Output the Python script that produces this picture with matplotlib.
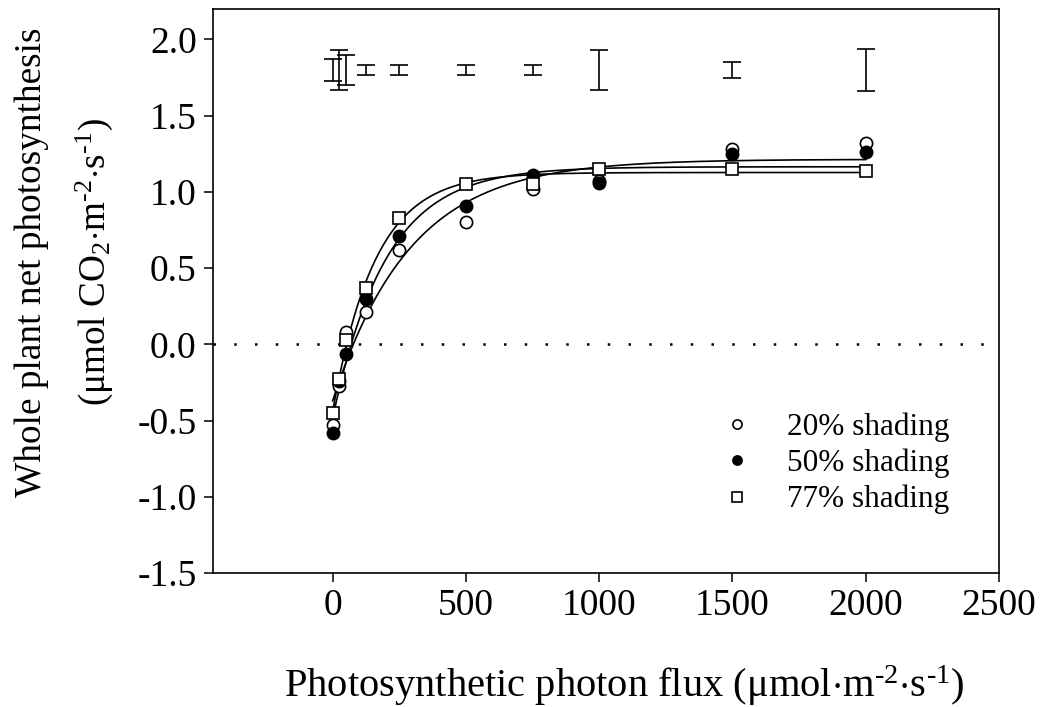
import numpy as np
import matplotlib
matplotlib.use("Agg")
import matplotlib.pyplot as plt

plt.rcParams['font.family'] = ['Liberation Serif', 'DejaVu Serif']
plt.rcParams['mathtext.fontset'] = 'custom'
plt.rcParams['mathtext.rm'] = 'Liberation Serif'
plt.rcParams['mathtext.it'] = 'Liberation Serif:italic'
plt.rcParams['mathtext.bf'] = 'Liberation Serif:bold'

# Photon flux levels (umol m-2 s-1)
ppf = [0, 25, 50, 125, 250, 500, 750, 1000, 1500, 2000]

# Whole plant net photosynthesis for each shading treatment
shade20 = [-0.53, -0.27, 0.08, 0.21, 0.62, 0.80, 1.02, 1.07, 1.28, 1.32]
shade50 = [-0.58, -0.24, -0.06, 0.30, 0.71, 0.91, 1.11, 1.06, 1.25, 1.26]
shade77 = [-0.45, -0.23, 0.03, 0.37, 0.83, 1.05, 1.05, 1.15, 1.15, 1.14]

# Pooled error bars shown above the data (centre and half-width)
err_center = [1.80, 1.80, 1.80, 1.80, 1.80, 1.80, 1.80, 1.80, 1.80, 1.80]
err_half = [0.07, 0.13, 0.10, 0.033, 0.033, 0.033, 0.033, 0.133, 0.05, 0.14]

labels = ["20% shading", "50% shading", "77% shading"]


def fit_exp_rise(x, y):
    """Least-squares fit of y = a*(1 - exp(-b*x)) + c (grid over b, linear in a, c)."""
    x = np.asarray(x, float)
    y = np.asarray(y, float)
    best = None
    for b in np.linspace(0.0005, 0.03, 3000):
        A = np.column_stack([1 - np.exp(-b * x), np.ones_like(x)])
        coef, *_ = np.linalg.lstsq(A, y, rcond=None)
        sse = np.sum((A @ coef - y) ** 2)
        if best is None or sse < best[0]:
            best = (sse, coef[0], b, coef[1])
    return best[1:]


fig = plt.figure(figsize=(10.4, 7.07), dpi=100)
ax = fig.add_axes([0.2045, 0.1895, 0.7561, 0.7978])

xs = np.linspace(0, 2000, 400)
for y in (shade20, shade50, shade77):
    a, b, c = fit_exp_rise(ppf, y)
    ax.plot(xs, a * (1 - np.exp(-b * xs)) + c, color='black', lw=1.2, zorder=2)

ax.axhline(0, color='black', lw=1.8, dashes=(1, 7.3), zorder=1)

ms = 8.8
ax.plot(ppf, shade20, 'o', ms=ms, mfc='white', mec='black', mew=1.2,
        label=labels[0], zorder=3)
ax.plot(ppf, shade50, 'o', ms=ms, mfc='black', mec='black', mew=1.2,
        label=labels[1], zorder=3)
ax.plot(ppf, shade77, 's', ms=ms, mfc='white', mec='black', mew=1.2,
        label=labels[2], zorder=4)

ax.errorbar(ppf, err_center, yerr=err_half, fmt='none', ecolor='black',
            elinewidth=1.2, capsize=6.2, capthick=1.2, zorder=3)

ax.set_xlim(-450, 2500)
ax.set_ylim(-1.5, 2.2)
ax.set_xticks([0, 500, 1000, 1500, 2000, 2500])
ax.set_yticks(np.arange(-1.5, 2.01, 0.5))
ax.yaxis.set_major_formatter(matplotlib.ticker.FormatStrFormatter('%.1f'))
ax.tick_params(direction='out', length=6.5, width=1.1, labelsize=27, pad=5)
for sp in ax.spines.values():
    sp.set_linewidth(1.2)

hy = "\u2010"
ax.set_xlabel("Photosynthetic photon flux ($\\mathrm{\\mu mol{\\cdot}m^{" + hy + "2}{\\cdot}s^{"
              + hy + "1}}$)", fontsize=29.2, labelpad=29)
ax.xaxis.label.set_x(0.523)
ax.set_ylabel("Whole plant net photosynthesis\n"
              "($\\mathrm{\\mu mol\\ CO_2{\\cdot}m^{" + hy + "2}{\\cdot}s^{" + hy + "1}}$)",
              fontsize=26.8, labelpad=16, linespacing=1.8)
ax.yaxis.label.set_y(0.551)

leg = ax.legend(loc='upper left', bbox_to_anchor=(0.607, 0.335), frameon=False,
                fontsize=22.5, handlelength=1.2, handletextpad=1.0,
                labelspacing=0.22, markerscale=0.75)

fig.savefig("out.png", dpi=100)
